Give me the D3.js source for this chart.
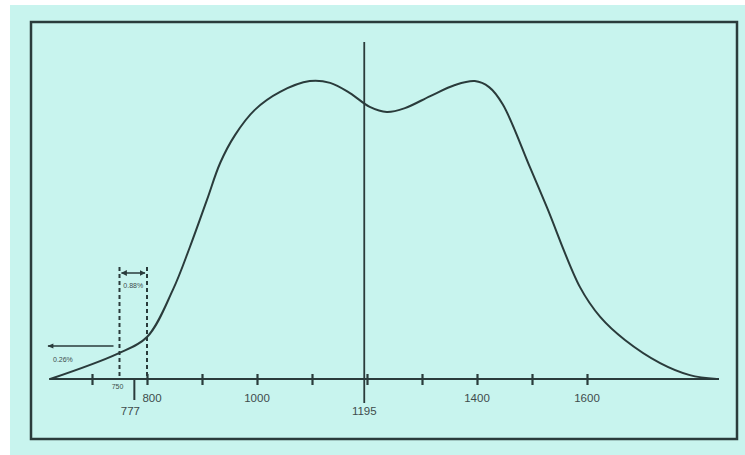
<!DOCTYPE html>
<html><head><meta charset="utf-8">
<script src="https://cdn.jsdelivr.net/npm/d3@7"></script>
<style>html,body{margin:0;padding:0;background:#fff;}svg{display:block;}</style>
</head><body>
<svg id="c" width="745" height="455"></svg>
<script>
// curve sample points (x in data units, y in relative density units)
const curveX = [624, 745, 800, 847, 878, 909, 933, 960, 996, 1042, 1096, 1133, 1169, 1205, 1236, 1269, 1315, 1360, 1396, 1422, 1447, 1496, 1527, 1587, 1624, 1669, 1733, 1787, 1836];
const curveY = [0, 8.3, 14, 29.7, 44, 59.7, 72, 81.3, 89.7, 95.7, 99.3, 98.7, 95.3, 90.7, 89, 90.3, 94.3, 98, 99.3, 97.3, 91.5, 70.7, 57.3, 30.7, 20.7, 13, 5.3, 1.3, 0];
const tickValues = [700, 800, 900, 1000, 1100, 1200, 1300, 1400, 1500, 1600];
const tickLabels = [800, 1000, 1400, 1600];
const meanValue = 1195;
const refValue = 777;
const bandValues = [750, 800];
const bandPct = "0.88%";
const tailPct = "0.26%";
const axisExtent = [622, 1840];

const svg = d3.select("#c");
const ink = "#2a3b3b";
const txt = "#3e4c4c";
const font = "Liberation Sans, Arial, sans-serif";

svg.append("rect").attr("x", 10).attr("y", 5).attr("width", 735).attr("height", 450).attr("fill", "#c8f4ee");
svg.append("rect").attr("x", 31).attr("y", 22).attr("width", 706).attr("height", 417)
  .attr("fill", "none").attr("stroke", ink).attr("stroke-width", 2.5);

const x = d3.scaleLinear().domain([1000, 1400]).range([257, 477]);
const y = d3.scaleLinear().domain([0, 100]).range([379, 79]);
const baseY = y(0);

// axis
const axis = d3.axisBottom(x).tickValues(tickValues).tickFormat("").tickSizeOuter(0).tickSizeInner(6);
const gA = svg.append("g").attr("transform", `translate(0,${baseY})`).call(axis);
gA.select(".domain").remove();
gA.selectAll(".tick line").attr("y1", -5).attr("y2", 6).attr("stroke", ink).attr("stroke-width", 2.2);
svg.append("line").attr("x1", x(axisExtent[0])).attr("x2", x(axisExtent[1]))
  .attr("y1", baseY).attr("y2", baseY).attr("stroke", ink).attr("stroke-width", 2);

// tick labels
svg.selectAll("text.tl").data(tickLabels).join("text")
  .attr("x", d => d === 800 ? x(d) + 5 : x(d))
  .attr("y", 402)
  .attr("text-anchor", "middle")
  .attr("font-family", font)
  .attr("font-size", 11.5).attr("fill", txt).text(d => d);

// mean line
svg.append("line").attr("x1", x(meanValue)).attr("x2", x(meanValue)).attr("y1", 42).attr("y2", 403)
  .attr("stroke", ink).attr("stroke-width", 1.8);
svg.append("text").attr("x", x(meanValue)).attr("y", 415).attr("text-anchor", "middle")
  .attr("font-family", font).attr("font-size", 11.5).attr("fill", txt).text(meanValue);

// 777 tick
svg.append("line").attr("x1", x(refValue)).attr("x2", x(refValue)).attr("y1", baseY).attr("y2", 400)
  .attr("stroke", ink).attr("stroke-width", 2);
svg.append("text").attr("x", x(refValue) - 4).attr("y", 415).attr("text-anchor", "middle")
  .attr("font-family", font).attr("font-size", 11.5).attr("fill", txt).text(refValue);

// 750 label
svg.append("text").attr("x", x(750) - 2).attr("y", 389).attr("text-anchor", "middle")
  .attr("font-family", font).attr("font-size", 7).attr("fill", txt).text(750);

// dashed band lines
bandValues.forEach(v => {
  svg.append("line").attr("x1", x(v)).attr("x2", x(v)).attr("y1", 267).attr("y2", baseY)
    .attr("stroke", ink).attr("stroke-width", 2).attr("stroke-dasharray", "4,3");
});

const defs = svg.append("defs");
defs.append("marker").attr("id", "ah").attr("viewBox", "0 0 10 10").attr("refX", 9).attr("refY", 5)
  .attr("markerWidth", 4).attr("markerHeight", 4).attr("orient", "auto-start-reverse")
  .append("path").attr("d", "M0,0L10,5L0,10z").attr("fill", ink);
defs.append("marker").attr("id", "ah2").attr("viewBox", "0 0 10 10").attr("refX", 9).attr("refY", 5)
  .attr("markerWidth", 5).attr("markerHeight", 4).attr("orient", "auto-start-reverse")
  .append("path").attr("d", "M0,1L10,5L0,9z").attr("fill", ink);

// double arrow between band lines
svg.append("line").attr("x1", x(bandValues[0]) + 2).attr("x2", x(bandValues[1]) - 2).attr("y1", 273).attr("y2", 273)
  .attr("stroke", ink).attr("stroke-width", 1.5)
  .attr("marker-start", "url(#ah)").attr("marker-end", "url(#ah)");
svg.append("text").attr("x", (x(bandValues[0]) + x(bandValues[1])) / 2).attr("y", 288).attr("text-anchor", "middle")
  .attr("font-family", font).attr("font-size", 7).attr("fill", txt).text(bandPct);

// left arrow (tail)
svg.append("line").attr("x1", x(bandValues[0]) - 6).attr("x2", 48).attr("y1", 346).attr("y2", 346)
  .attr("stroke", ink).attr("stroke-width", 1.5).attr("marker-end", "url(#ah2)");
svg.append("text").attr("x", 53).attr("y", 362)
  .attr("font-family", font).attr("font-size", 7).attr("fill", txt).text(tailPct);

// curve
const pts = curveX.map((v, i) => [v, curveY[i]]);
const line = d3.line().x(d => x(d[0])).y(d => y(d[1])).curve(d3.curveCatmullRom.alpha(0.5));
svg.append("path").attr("d", line(pts)).attr("fill", "none").attr("stroke", ink).attr("stroke-width", 2);
</script>
</body></html>
